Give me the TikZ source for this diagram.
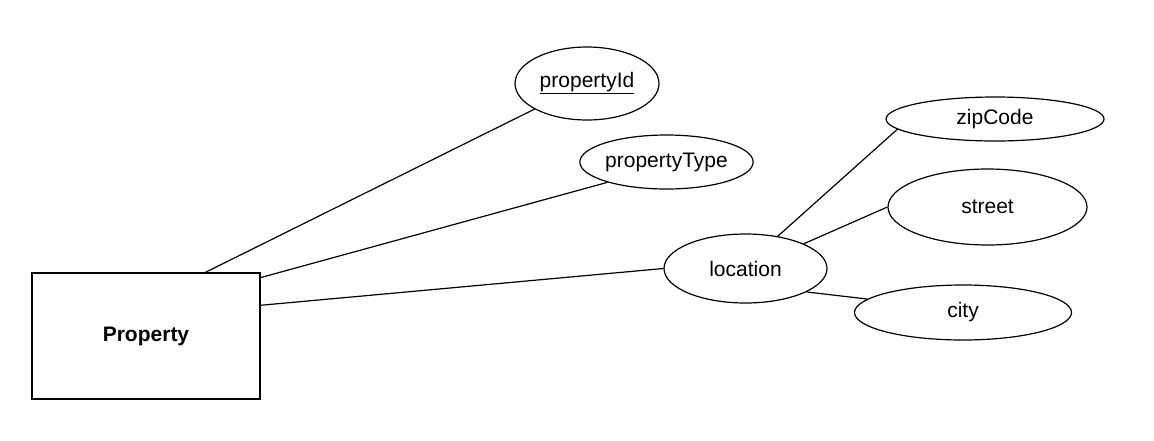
\documentclass[tikz,border=0pt]{standalone}
\usepackage{fontspec}
\setmainfont{Liberation Sans}
\usepackage{tikz}
\usetikzlibrary{positioning,shapes.geometric}

\begin{document}
\begin{tikzpicture}[x=1pt,y=-1pt,line width=1.2pt,
    every node/.style={font=\fontsize{21}{25}\selectfont,inner sep=0pt},
    entity/.style={draw,rectangle,minimum width=228pt,minimum height=126pt,font=\fontsize{21}{25}\selectfont\bfseries},
    attr/.style={draw,ellipse,minimum width=#1}]
    \useasboundingbox (0,0) rectangle (1154,440);
    \node[entity] (Prop) at (146,336) {Property};
    \node[attr=144pt,minimum height=73pt] (PId) at (587,83.5) {\underline{propertyId}};
    \node[attr=169pt,minimum height=54pt] (PType) at (666.5,162) {propertyType};
    \node[attr=163pt,minimum height=69pt] (Loc) at (745.5,268.5) {location};
    \node[attr=218pt,minimum height=44pt] (Zip) at (995,119) {zipCode};
    \node[attr=199pt,minimum height=76pt] (Street) at (987.5,207) {street};
    \node[attr=217pt,minimum height=55pt] (City) at (963,312.5) {city};
    \draw (Prop.47.4) -- (PId.206.4);
    \draw (Prop.27.8) -- (PType.199.6);
    \draw (Prop.15.2) -- (Loc.180);
    \draw (Loc.45.9) -- (Zip.186.8);
    \draw (Loc.23) -- (Street.180.6);
    \draw (Loc.-21.3) -- (City.172.9);
  \end{tikzpicture}
\end{document}
